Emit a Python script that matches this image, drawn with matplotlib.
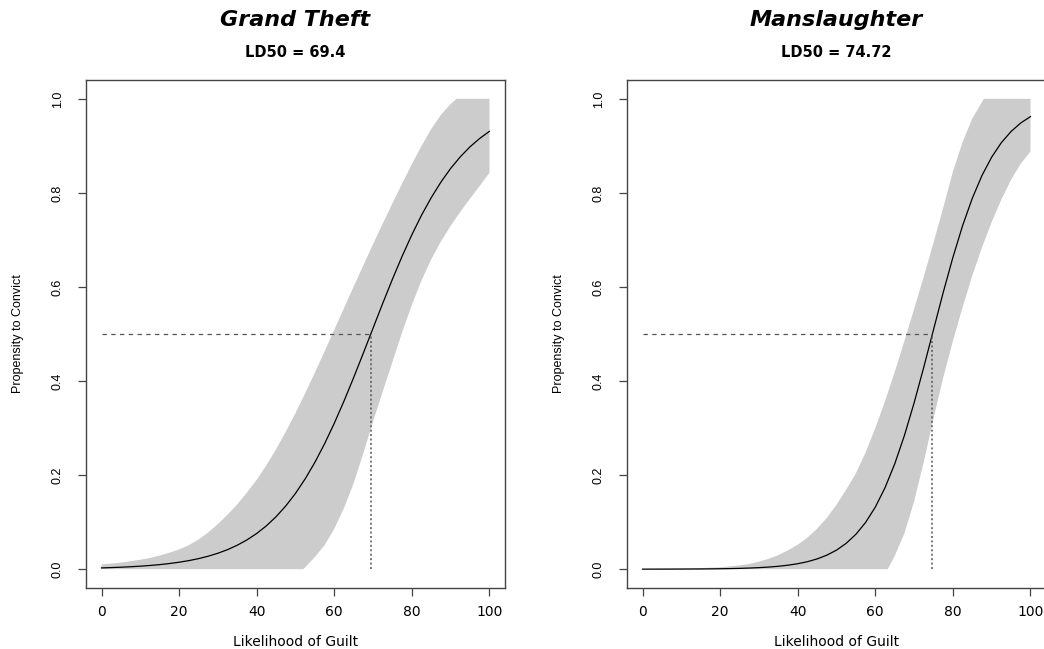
import matplotlib
matplotlib.use('Agg')
import matplotlib.pyplot as plt

# values
guilt = [0, 2.5, 5, 7.5, 10, 12.5, 15, 17.5, 20, 22.5, 25, 27.5, 30, 32.5, 35, 37.5, 40, 42.5, 45, 47.5,
         50, 52.5, 55, 57.5, 60, 62.5, 65, 67.5, 70, 72.5, 75, 77.5, 80, 82.5, 85, 87.5, 90, 92.5, 95, 97.5, 100]

theft_fit = [0.0027, 0.0034, 0.0042, 0.0052, 0.0064, 0.0079, 0.0097, 0.0120, 0.0148, 0.0182, 0.0224,
             0.0276, 0.0339, 0.0416, 0.0510, 0.0623, 0.0759, 0.0922, 0.1116, 0.1345, 0.1612, 0.1921,
             0.2272, 0.2667, 0.3103, 0.3574, 0.4076, 0.4597, 0.5127, 0.5655, 0.6168, 0.6656, 0.7111,
             0.7528, 0.7901, 0.8232, 0.8521, 0.8769, 0.8981, 0.9159, 0.9309]
theft_up_x = [0, 2.5, 5, 7.5, 10, 12.5, 15, 17.5, 20, 22.5, 25, 27.5, 30, 32.5, 35, 37.5, 40, 42.5, 45, 47.5,
              50, 52.5, 55, 57.5, 60, 62.5, 65, 67.5, 70, 72.5, 75, 77.5, 80, 82.5, 85, 87.5, 90, 91.5, 100]
theft_up = [0.010, 0.012, 0.014, 0.017, 0.020, 0.024, 0.029, 0.035, 0.042, 0.051, 0.063, 0.078, 0.096,
            0.116, 0.138, 0.163, 0.190, 0.221, 0.255, 0.292, 0.332, 0.374, 0.418, 0.463, 0.509, 0.555,
            0.601, 0.646, 0.691, 0.735, 0.778, 0.820, 0.861, 0.900, 0.936, 0.966, 0.989, 1.0, 1.0]
theft_lo_x = [0, 52, 52.5, 55, 57.5, 60, 62.5, 65, 67.5, 70, 72.5, 75, 77.5, 80, 82.5, 85, 87.5, 90, 92.5,
              95, 97.5, 100]
theft_lo = [0, 0, 0.004, 0.026, 0.051, 0.086, 0.130, 0.183, 0.247, 0.314, 0.378, 0.441, 0.504, 0.562,
            0.614, 0.659, 0.697, 0.730, 0.760, 0.788, 0.815, 0.843]
theft_ld50 = 69.4

slaughter_fit = [0.00007, 0.0001, 0.00013, 0.00018, 0.00025, 0.00035, 0.00048, 0.00066, 0.00091, 0.00125,
                 0.0017, 0.0024, 0.0033, 0.0045, 0.0062, 0.0085, 0.0116, 0.0159, 0.0218, 0.0298, 0.0405,
                 0.0550, 0.0742, 0.0994, 0.1319, 0.1731, 0.2237, 0.2841, 0.3535, 0.4295, 0.5090, 0.5881,
                 0.6628, 0.7303, 0.7885, 0.8370, 0.8761, 0.9069, 0.9306, 0.9487, 0.9622]
slaughter_up_x = [0, 5, 10, 15, 20, 22.5, 25, 27.5, 30, 32.5, 35, 37.5, 40, 42.5, 45, 47.5, 50, 52.5, 55,
                  57.5, 60, 62.5, 65, 67.5, 70, 72.5, 75, 77.5, 80, 82.5, 85, 87.5, 88, 100]
slaughter_up = [0.0005, 0.001, 0.0015, 0.0025, 0.004, 0.006, 0.008, 0.011, 0.016, 0.022, 0.030, 0.040,
                0.052, 0.067, 0.086, 0.109, 0.137, 0.169, 0.204, 0.248, 0.300, 0.357, 0.419, 0.485, 0.553,
                0.622, 0.694, 0.768, 0.845, 0.908, 0.958, 0.993, 1.0, 1.0]
slaughter_lo_x = [0, 63.2, 65, 67.5, 70, 72.5, 75, 77.5, 80, 82.5, 85, 87.5, 90, 92.5, 95, 97.5, 100]
slaughter_lo = [0, 0, 0.028, 0.076, 0.144, 0.228, 0.320, 0.407, 0.485, 0.557, 0.624, 0.684, 0.738, 0.786,
                0.828, 0.862, 0.888]
slaughter_ld50 = 74.72

x_ticks = [0, 20, 40, 60, 80, 100]
y_ticks = [0.0, 0.2, 0.4, 0.6, 0.8, 1.0]

edge = '#444444'


def panel(ax, fit, up_x, up, lo_x, lo, ld50, name):
    # grey confidence band, then fitted curve
    ax.fill(up_x + lo_x[::-1], up + lo[::-1], color='#cccccc', lw=0)
    ax.plot(guilt, fit, color='black', lw=0.9)
    ax.plot([0, ld50], [0.5, 0.5], color='#555555', lw=0.9, ls=(0, (3.5, 3.5)))
    ax.plot([ld50, ld50], [0, 0.5], color='#555555', lw=1.1, ls=(0, (1.3, 1.6)))

    ax.set_xlim(-4, 104)
    ax.set_ylim(-0.04, 1.04)
    ax.set_xticks(x_ticks)
    ax.set_yticks(y_ticks)
    ax.set_yticklabels(['%.1f' % v for v in y_ticks], rotation=90, va='center',
                       family='Liberation Sans', fontsize=9)
    ax.tick_params(axis='x', length=6, width=0.9, color=edge, pad=6, labelsize=10)
    ax.tick_params(axis='y', length=6, width=0.9, color=edge, pad=10)
    for s in ax.spines.values():
        s.set_color(edge)
        s.set_linewidth(1.0)

    ax.set_xlabel('Likelihood of Guilt', fontsize=10, va='center')
    ax.xaxis.set_label_coords(0.5, -0.106)
    ax.set_ylabel('Propensity to Convict', family='Liberation Sans', fontsize=9, va='center')
    ax.yaxis.set_label_coords(-0.163, 0.5)

    ax.text(0.5, 1.118, name, transform=ax.transAxes, ha='center', va='center',
            fontsize=16, fontweight='bold', style='italic')
    ax.text(0.5, 1.055, 'LD50 = %s' % ld50, transform=ax.transAxes, ha='center', va='center',
            fontsize=10.5, fontweight='bold')


fig = plt.figure(figsize=(10.44, 6.49), dpi=100)
ax1 = fig.add_axes([86 / 1044, 61 / 649, 419 / 1044, 508 / 649])
ax2 = fig.add_axes([627 / 1044, 61 / 649, 419 / 1044, 508 / 649])

panel(ax1, theft_fit, theft_up_x, theft_up, theft_lo_x, theft_lo, theft_ld50, 'Grand Theft')
panel(ax2, slaughter_fit, slaughter_up_x, slaughter_up, slaughter_lo_x, slaughter_lo, slaughter_ld50, 'Manslaughter')

fig.savefig('out.png', dpi=100)
